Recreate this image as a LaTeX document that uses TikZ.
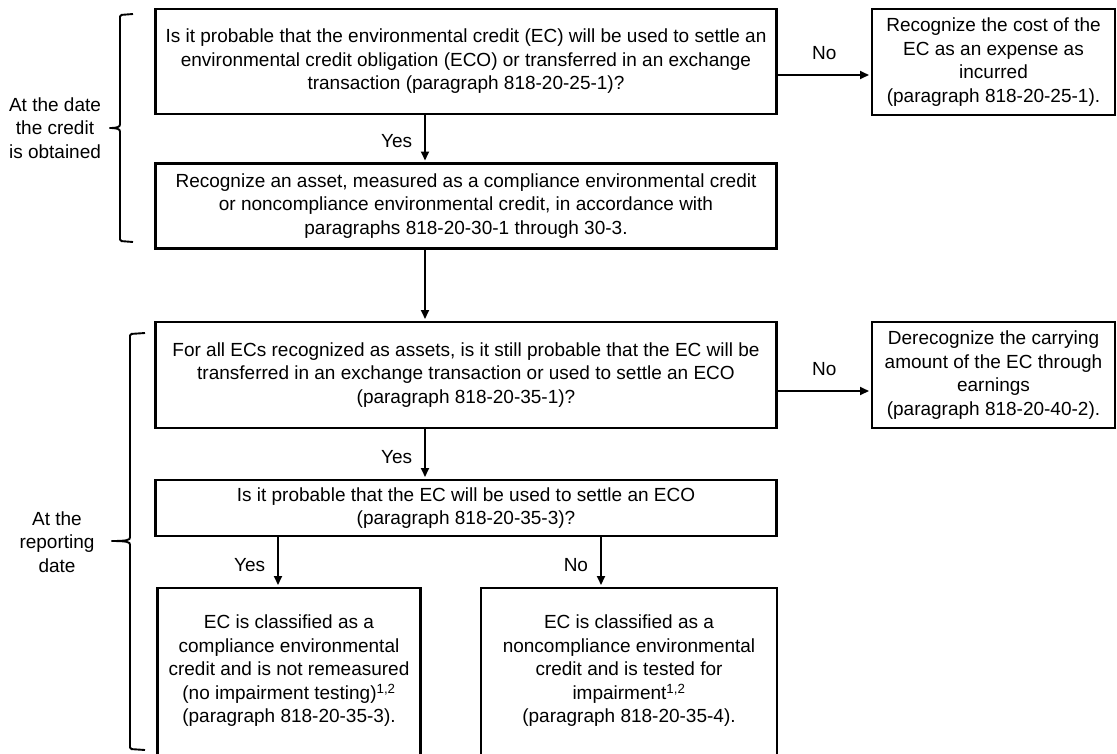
\documentclass[tikz,border=0pt]{standalone}
\usepackage{fontspec}
\setmainfont{Liberation Sans}
\usetikzlibrary{arrows.meta}
\tikzset{
  box/.style={draw=black, line width=2.7pt, inner sep=0pt, outer sep=0pt, align=center, font=\fontsize{19}{23.5}\selectfont},
  txt/.style={inner sep=0pt, align=center, font=\fontsize{19}{23.5}\selectfont},
  arr/.style={-{Triangle[length=9pt,width=8pt]}, line width=1.9pt, shorten >=3pt},
  lbl/.style={inner sep=0pt, font=\fontsize{19}{23.5}\selectfont},
  brace/.style={line width=1.9pt, rounded corners=1.5pt}
}
\begin{document}
\begin{tikzpicture}[x=1pt,y=-1pt]
\useasboundingbox (0,0) rectangle (1117,753);
\clip (0,0) rectangle (1117,753);
% boxes
\node[box, minimum width=621, minimum height=105] (Q1) at (466,61.5)
 {Is it probable that the environmental credit (EC) will be used to settle an\\ environmental credit obligation (ECO) or transferred in an exchange\\ transaction (paragraph 818-20-25-1)?};
\node[box, minimum width=243, minimum height=106] (R1) at (993.5,62)
 {Recognize the cost of the\\ EC as an expense as\\ incurred\\ (paragraph 818-20-25-1).};
\node[box, minimum width=621, minimum height=85] (A1) at (466,206)
 {Recognize an asset, measured as a compliance environmental credit\\ or noncompliance environmental credit, in accordance with\\ paragraphs 818-20-30-1 through 30-3.};
\node[box, minimum width=621, minimum height=106] (Q2) at (466,375)
 {For all ECs recognized as assets, is it still probable that the EC will be\\ transferred in an exchange transaction or used to settle an ECO\\ (paragraph 818-20-35-1)?};
\node[box, minimum width=243, minimum height=106] (R2) at (993.5,375)
 {Derecognize the carrying\\ amount of the EC through\\ earnings\\ (paragraph 818-20-40-2).};
\node[box, minimum width=621, minimum height=56] (Q3) at (466,508)
 {Is it probable that the EC will be used to settle an ECO\\ (paragraph 818-20-35-3)?};
\node[box, minimum width=263, minimum height=182] (B1) at (289,679) {};
\node[box, minimum width=296, minimum height=182] (B2) at (629,679) {};
\node[txt] (B1t) at (289,671)
 {EC is classified as a\\ compliance environmental\\ credit and is not remeasured\\ (no impairment testing)\textsuperscript{1,2}\\ (paragraph 818-20-35-3).};
\node[txt] (B2t) at (629,671)
 {EC is classified as a\\ noncompliance environmental\\ credit and is tested for\\ impairment\textsuperscript{1,2}\\ (paragraph 818-20-35-4).};
% connectors
\draw[arr] ([xshift=-41pt]Q1.south) -- node[lbl, pos=0.55, left=12pt] (y1) {Yes} ([xshift=-41pt]A1.north);
\draw[arr] ([xshift=-41pt]A1.south) -- ([xshift=-41pt]Q2.north);
\draw[arr] ([xshift=-41pt]Q2.south) -- node[lbl, pos=0.55, left=12pt] (y2) {Yes} ([xshift=-41pt]Q3.north);
\draw[arr] ([yshift=-13.5pt]Q1.east) -- node[lbl, above=14pt] (n1) {No} ([yshift=-13.5pt]Q1.east -| R1.west);
\draw[arr] ([yshift=-16pt]Q2.east) -- node[lbl, above=14pt] (n2) {No} ([yshift=-16pt]Q2.east -| R2.west);
\draw[arr] ([xshift=-188pt]Q3.south) -- node[lbl, pos=0.55, left=12pt] (y3) {Yes} ([xshift=-188pt]Q3.south |- B1.north);
\draw[arr] ([xshift=135pt]Q3.south) -- node[lbl, pos=0.55, left=12pt] (n3) {No} ([xshift=135pt]Q3.south |- B2.north);
% braces
\coordinate (b1t) at (133,14);
\coordinate (b1b) at (133,242);
\coordinate (b1m) at (108,128);
\draw[brace] (b1t) -- (120,15) -- (120,123) .. controls (120,127) and (117,128) .. (b1m)
  .. controls (117,128) and (120,129) .. (120,133) -- (120,241) -- (b1b);
\node[txt] (L1) at (55,128) {At the date\\ the credit\\ is obtained};
\coordinate (b2t) at (145,333);
\coordinate (b2b) at (145,750);
\coordinate (b2m) at (110,541);
\draw[brace] (b2t) -- (130,334) -- (130,536) .. controls (130,540) and (127,541) .. (b2m)
  .. controls (127,541) and (130,542) .. (130,546) -- (130,749) -- (b2b);
\node[txt] (L2) at (57,542) {At the\\ reporting\\ date};
\end{tikzpicture}
\end{document}
